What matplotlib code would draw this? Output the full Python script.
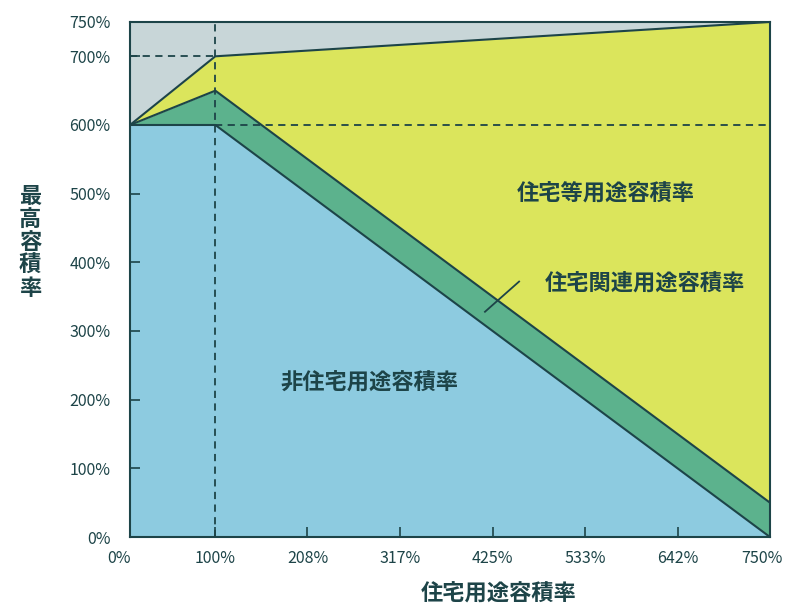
import matplotlib
matplotlib.use("Agg")
import matplotlib.pyplot as plt
from matplotlib.transforms import ScaledTranslation

plt.rcParams['font.family'] = ['Noto Sans CJK JP', 'DejaVu Sans']

# 住宅用途容積率 (x) と各境界線 (y)
x_pts = [0, 100, 750]
hi_nonres = [600, 600, 0]      # 非住宅用途容積率の上端
hi_related = [600, 650, 50]    # 住宅関連用途容積率の上端
hi_housing = [600, 700, 750]   # 住宅等用途容積率の上端

x_ticks = [0, 100, 208, 317, 425, 533, 642, 750]
x_tick_labels = ["0%", "100%", "208%", "317%", "425%", "533%", "642%", "750%"]
y_ticks = [0, 100, 200, 300, 400, 500, 600, 700, 750]
y_tick_labels = ["0%", "100%", "200%", "300%", "400%", "500%", "600%", "700%", "750%"]

ink = "#1d4448"
c_gray = "#c8d6d8"
c_yellow = "#dbe55c"
c_green = "#5cb28d"
c_blue = "#8dcbe0"

fig = plt.figure(figsize=(7.86, 6.07), dpi=100)
ax = fig.add_axes([0.1654, 0.1153, 0.8142, 0.8485])

ax.fill_between(x_pts, hi_housing, 750, color=c_gray, lw=0)
ax.fill_between(x_pts, hi_related, hi_housing, color=c_yellow, lw=0)
ax.fill_between(x_pts, hi_nonres, hi_related, color=c_green, lw=0)
ax.fill_between(x_pts, 0, hi_nonres, color=c_blue, lw=0)

for ys in (hi_nonres, hi_related, hi_housing):
    ax.plot(x_pts, ys, color=ink, lw=1.5)

# 破線
ax.plot([100, 100], [0, 750], color=ink, lw=1.3, ls=(0, (4, 3)))
ax.plot([0, 100], [700, 700], color=ink, lw=1.3, ls=(0, (4, 3)))
ax.plot([100, 750], [600, 600], color=ink, lw=1.3, ls=(0, (4, 3)))

ax.set_xlim(0, 750)
ax.set_ylim(0, 750)
ax.set_xticks(x_ticks)
ax.set_xticklabels(x_tick_labels)
ax.set_yticks(y_ticks)
ax.set_yticklabels(y_tick_labels)
ax.tick_params(direction="in", length=7, width=1.2, color=ink, labelcolor=ink,
               labelsize=11.5)
ax.tick_params(axis="x", pad=9)
ax.tick_params(axis="y", pad=14)
for s in ax.spines.values():
    s.set_color(ink)
    s.set_linewidth(1.5)

# 端のラベルを少し内側へ
lbls = ax.get_xticklabels()
lbls[-1].set_transform(lbls[-1].get_transform() + ScaledTranslation(-6 / 72, 0, fig.dpi_scale_trans))
lbls[0].set_transform(lbls[0].get_transform() + ScaledTranslation(-8 / 72, 0, fig.dpi_scale_trans))

big = dict(fontsize=16, fontweight="bold", color=ink, ha="center", va="center")
ax.text(557, 500, "住宅等用途容積率", **big)
ax.text(603, 370, "住宅関連用途容積率", **big)
ax.plot([416, 456], [328, 372], color=ink, lw=1.3)
ax.text(281, 224, "非住宅用途容積率", **big)

fig.text(0.635, 0.022, "住宅用途容積率", **big)
fig.text(0.038, 0.60, "最\n高\n容\n積\n率", linespacing=1.0, **big)

fig.savefig("out.png", dpi=100)
